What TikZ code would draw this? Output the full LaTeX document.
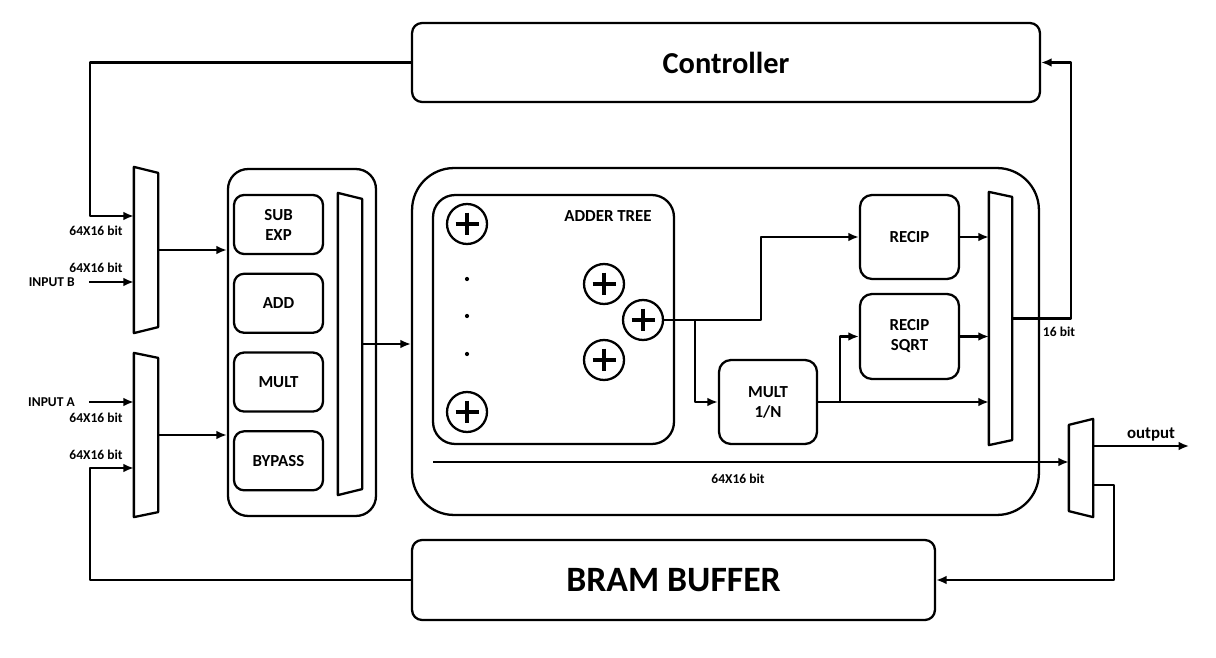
\documentclass[tikz,border=0pt]{standalone}
\usepackage{fontspec}
\setmainfont{Carlito}
\usetikzlibrary{arrows.meta,positioning}
\newcommand{\muxdraw}[2]{\draw (#1.north west) -- ([yshift=-#2]#1.north east) -- ([yshift=#2]#1.south east) -- (#1.south west) -- cycle;}
\newcommand{\demuxdraw}[2]{\draw ([yshift=-#2]#1.north west) -- (#1.north east) -- (#1.south east) -- ([yshift=#2]#1.south west) -- cycle;}
\tikzset{
  blk/.style={draw,inner sep=0pt,align=center,font=\fontsize{9.6}{11.4}\selectfont\bfseries},
  bigblk/.style={blk,rounded corners=0.2cm,font=\fontsize{17.3}{20}\selectfont\bfseries},
  opblk/.style={blk,rounded corners=0.2cm,minimum width=1.78cm,minimum height=1.18cm},
  fnblk/.style={blk,rounded corners=0.24cm,minimum width=1.98cm,minimum height=1.7cm},
  muxnode/.style={inner sep=0pt,minimum width=0.44cm},
  adder/.style={circle,draw,minimum size=0.8cm,inner sep=0pt,
    path picture={\draw[line width=2.3pt]
      ([yshift=-0.17cm]path picture bounding box.north) -- ([yshift=0.17cm]path picture bounding box.south)
      ([xshift=0.17cm]path picture bounding box.west) -- ([xshift=-0.17cm]path picture bounding box.east);}},
  lbl/.style={inner sep=0pt,font=\fontsize{7.7}{9}\selectfont\bfseries},
  txt/.style={inner sep=0pt,font=\fontsize{9.6}{11}\selectfont\bfseries}
}
\begin{document}
\begin{tikzpicture}[x=0.02cm,y=-0.02cm,line join=round,line width=1.3pt,>={Latex[length=6pt,width=5pt]}]
  \useasboundingbox (0,0) rectangle (1216,658);
  %Controller and buffer
  \node[bigblk,minimum width=12.56cm,minimum height=1.58cm] (ctrl) at (726,62.5) {Controller};
  \node[bigblk,minimum width=10.46cm,minimum height=1.6cm,font=\fontsize{20.3}{24}\selectfont\bfseries] (bram) at (673.5,580) {BRAM BUFFER};
  %Input muxes
  \node[muxnode,minimum height=3.28cm] (muxB) at (146,250) {};
  \node[muxnode,minimum height=3.24cm] (muxA) at (146,435) {};
  \muxdraw{muxB}{0.12cm}
  \muxdraw{muxA}{0.1cm}
  \node[lbl] (bitB1) at (96,231) {64X16 bit};
  \node[lbl] (bitB2) at (96,268) {64X16 bit};
  \node[lbl] (bitA1) at (96,418) {64X16 bit};
  \node[lbl] (bitA2) at (96,455) {64X16 bit};
  \draw[->] (ctrl.west) -| ([xshift=-0.88cm,yshift=0.68cm]muxB.west) -- ([yshift=0.68cm]muxB.west);
  \draw[->] ([xshift=-0.9cm,yshift=-0.64cm]muxB.west) node[lbl,left=0.26cm] (inB) {INPUT B} -- ([yshift=-0.64cm]muxB.west);
  \draw[->] ([xshift=-0.9cm,yshift=0.66cm]muxA.west) node[lbl,left=0.26cm] (inA) {INPUT A} -- ([yshift=0.66cm]muxA.west);
  \draw[->] (bram.west) -| ([xshift=-0.88cm,yshift=-0.66cm]muxA.west) -- ([yshift=-0.66cm]muxA.west);
  %Operation unit
  \node[draw,rounded corners=0.4cm,minimum width=2.96cm,minimum height=6.94cm,inner sep=0pt] (ops) at (302,342.5) {};
  \node[opblk] (subexp) at (278.5,224.5) {SUB\\EXP};
  \node[opblk,below=0.35cm of subexp] (add) {ADD};
  \node[opblk,below=0.35cm of add] (mult) {MULT};
  \node[opblk,below=0.35cm of mult] (bypass) {BYPASS};
  \node[muxnode,minimum height=6cm] (opsmux) at (350,344) {};
  \muxdraw{opsmux}{0.12cm}
  \draw[->] (muxB.east) -- (muxB.east -| ops.west);
  \draw[->] (muxA.east) -- (muxA.east -| ops.west);
  %Core with adder tree
  \node[draw,rounded corners=0.84cm,minimum width=12.54cm,minimum height=6.94cm,inner sep=0pt] (core) at (725.5,341.5) {};
  \draw[->] (opsmux.east) -- (opsmux.east -| core.west);
  \node[draw,rounded corners=0.44cm,minimum width=4.82cm,minimum height=4.98cm,inner sep=0pt] (tree) at (553.5,319.5) {};
  \node[txt] (treet) at (608,216) {ADDER TREE};
  \node[adder] (p1) at (467,224) {};
  \node[adder] (p2) at (604,284) {};
  \node[adder] (p3) at (643,320) {};
  \node[adder] (p4) at (604,360) {};
  \node[adder] (p5) at (467,412) {};
  \foreach \y in {279,316,354} \fill (467,\y) circle (1.2pt);
  %Function blocks
  \node[blk,rounded corners=0.24cm,minimum width=1.96cm,minimum height=1.68cm] (multn) at (768,402) {MULT\\1/N};
  \node[fnblk,minimum height=1.68cm] (recip) at (909.5,237) {RECIP};
  \node[fnblk] (rsqrt) at (909.5,336.5) {RECIP\\SQRT};
  \node[muxnode,minimum width=0.42cm,minimum height=5.02cm] (rmux) at (1000.5,318.5) {};
  \muxdraw{rmux}{0.1cm}
  \draw[->] (p3.east) -| ([xshift=-1.96cm]recip.west) -- (recip.west);
  \draw[->] ([xshift=0.62cm]p3.east) |- (multn.west);
  \draw[->] (multn.east) -- (multn.east -| rmux.west);
  \draw[->] ([xshift=0.44cm]multn.east) |- (rsqrt.west);
  \draw[->] (recip.east) -- (recip.east -| rmux.west);
  \draw[->] (rsqrt.east) -- (rsqrt.east -| rmux.west);
  \draw[->] (rmux.east) -| ([xshift=0.6cm]ctrl.east) -- (ctrl.east);
  \node[lbl] (bit16) at (1059,332) {16 bit};
  %Output demux
  \node[muxnode,minimum height=1.92cm] (demux) at (1081,468) {};
  \demuxdraw{demux}{0.12cm}
  \coordinate (bus) at (433,462);
  \draw[->] (bus) -- (bus -| demux.west);
  \node[lbl] (bitbus) at (738,479) {64X16 bit};
  \draw[->] ([yshift=0.44cm]demux.east) -- ++(1.92cm,0) coordinate (outend);
  \node[txt] (outt) at (1151,435) {output};
  \draw[->] ([yshift=-0.34cm]demux.east) -| ([xshift=3.56cm]bram.east) -- (bram.east);
\end{tikzpicture}
\end{document}
